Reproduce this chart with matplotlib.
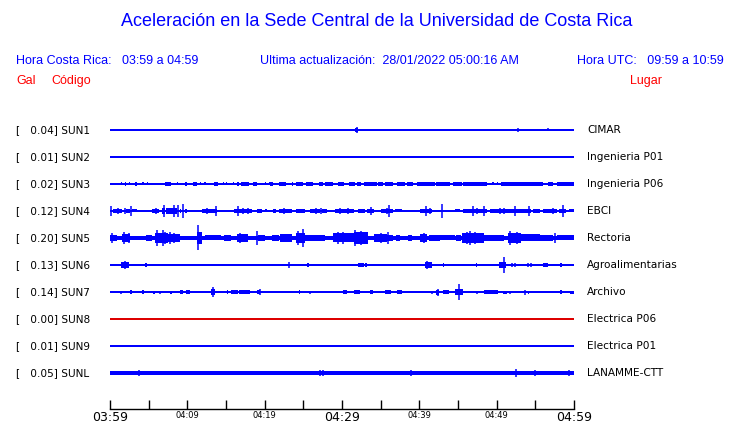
import matplotlib
matplotlib.use("Agg")
import matplotlib.pyplot as plt

# Estaciones (de arriba hacia abajo)
codigos = ["SUN1", "SUN2", "SUN3", "SUN4", "SUN5", "SUN6", "SUN7", "SUN8", "SUN9", "SUNL"]
gal = [0.04, 0.01, 0.02, 0.12, 0.20, 0.13, 0.14, 0.00, 0.01, 0.05]
lugares = ["CIMAR", "Ingenieria P01", "Ingenieria P06", "EBCI", "Rectoria",
           "Agroalimentarias", "Archivo", "Electrica P06", "Electrica P01", "LANAMME-CTT"]
colores = ["blue"] * 7 + ["#dd0000"] + ["blue"] * 2
# medio grosor de la linea base (px)
base_px = [0.7, 0.7, 0.7, 0.8, 2.2, 0.7, 0.7, 0.7, 0.7, 1.8]

# tiempo en minutos desde 03:59; (inicio, fin, media altura px)
SUN1_bloques = [(31.7, 32.1, 2)]
SUN1_picos = [(20.9, 1), (31.9, 3), (52.7, 2), (56.7, 1.5)]

SUN2_bloques = []
SUN2_picos = []

SUN3_bloques = [(1.4, 1.5, 1.5), (1.9, 2.1, 1.7), (2.5, 2.6, 1.5), (3.2, 3.5, 1.7), (4.2, 4.3, 1.5),
                (4.8, 4.9, 1.5), (7.1, 7.85, 1.7), (8.6, 8.7, 1.5), (9.7, 10.0, 1.7), (10.7, 11.2, 1.7),
                (11.6, 11.7, 1.5), (12.2, 12.3, 1.5), (13.4, 14.0, 1.7), (14.6, 14.7, 1.5), (15.0, 15.1, 1.5),
                (15.9, 16.0, 1.5), (16.4, 16.7, 1.7), (17.0, 18.0, 1.7), (18.5, 19.0, 1.7), (20.0, 20.1, 1.5),
                (20.5, 20.6, 1.5), (20.7, 21.1, 1.7), (21.8, 22.8, 1.7), (23.5, 23.7, 1.7), (24.1, 25.0, 1.7),
                (25.4, 26.3, 1.7), (27.0, 27.5, 1.7), (27.8, 28.9, 1.7), (29.5, 30.2, 1.7), (30.9, 31.7, 1.7),
                (31.9, 32.5, 1.7), (32.8, 34.5, 1.7), (34.7, 35.3, 1.7), (35.6, 36.6, 1.7), (37.1, 38.1, 1.7),
                (38.4, 39.2, 1.7), (39.7, 42.0, 1.7), (42.2, 44.0, 1.7), (44.4, 45.5, 1.7), (45.7, 48.7, 1.7),
                (49.4, 49.6, 1.5), (50.0, 50.1, 1.5), (50.6, 56.0, 1.8), (56.7, 57.3, 1.7), (57.8, 60.0, 1.8)]
SUN3_picos = []

SUN4_bloques = [(0.43, 1.5, 2), (2.1, 2.6, 2), (2.8, 3.5, 1.5), (5.4, 6.3, 2), (6.7, 7.1, 3), (7.3, 7.97, 3),
                (8.0, 8.6, 3), (9.0, 9.2, 2), (9.7, 9.9, 2), (10.4, 11.0, 1.2), (11.6, 11.7, 1.2),
                (11.9, 13.8, 2), (16.0, 18.3, 2), (19.0, 19.6, 2), (20.1, 20.2, 1.5), (21.1, 21.5, 2),
                (21.8, 23.5, 2), (24.0, 25.2, 2), (25.9, 27.1, 2), (27.4, 28.0, 2), (29.1, 31.5, 2.3),
                (32.1, 33.0, 2), (33.2, 34.1, 2), (35.1, 36.6, 2), (36.9, 37.7, 1.5), (38.2, 38.9, 1.2),
                (39.4, 39.6, 1.2), (40.1, 41.6, 2), (42.2, 42.7, 1), (43.5, 43.9, 1.2), (44.6, 45.2, 1.5),
                (45.7, 48.7, 2.3), (49.1, 52.1, 2), (52.1, 54.5, 2.3), (54.7, 55.6, 2), (56.0, 57.8, 2),
                (58.0, 59.0, 2), (59.3, 60.0, 1.5)]
SUN4_picos = [(0.1, 5), (1.0, 3), (1.94, 3), (2.75, 5), (6.0, 3), (7.0, 6), (8.3, 6), (8.8, 6), (9.5, 7),
              (12.5, 3), (13.7, 5), (16.6, 5), (17.2, 3), (17.8, 3), (22.5, 3), (26.6, 3), (27.3, 3),
              (29.7, 3), (30.8, 3), (33.7, 4), (35.8, 3), (36.1, 6), (40.9, 5), (41.4, 3), (42.9, 7),
              (47.0, 5), (47.5, 3), (48.4, 5), (50.4, 3), (50.9, 3), (52.4, 5), (54.2, 5), (57.3, 3), (58.6, 6)]

SUN5_bloques = [(0.0, 0.86, 3), (1.5, 2.6, 4), (4.7, 5.4, 3), (5.8, 7.5, 5), (7.5, 9.0, 4), (11.3, 11.9, 6),
                (12.3, 14.4, 2.5), (14.7, 15.7, 3), (16.4, 17.9, 4), (19.2, 20.1, 3), (20.9, 21.8, 3),
                (22.0, 23.5, 4), (24.1, 25.2, 5), (25.2, 27.8, 3), (28.9, 31.5, 4.5), (31.5, 33.4, 6),
                (34.1, 35.8, 4), (35.8, 36.6, 3), (37.0, 37.5, 3), (38.5, 39.0, 3), (40.1, 41.0, 4),
                (41.2, 42.7, 3), (42.7, 44.6, 2.5), (44.8, 45.4, 3), (45.5, 48.3, 5), (48.3, 50.9, 3),
                (51.5, 53.2, 5), (53.2, 55.6, 3.5), (55.6, 57.3, 3), (57.8, 60.0, 2.5)]
SUN5_picos = [(0.2, 5), (1.8, 6), (2.4, 5), (6.1, 8), (6.8, 8), (7.1, 6), (7.8, 6), (8.3, 5), (11.4, 12.5),
              (16.8, 5), (17.7, 3.5), (19.0, 7), (24.3, 7), (25.0, 9), (29.5, 6), (30.1, 6), (31.7, 8),
              (32.5, 7), (35.0, 5), (36.0, 6), (40.6, 5), (46.1, 6), (46.5, 7), (47.2, 6), (48.0, 5),
              (51.7, 7), (52.6, 6), (57.5, 5)]

SUN6_bloques = [(1.4, 2.4, 3), (4.5, 4.75, 2), (19.7, 19.85, 1.5), (25.5, 25.7, 2), (32.1, 32.8, 2),
                (33.0, 33.2, 2), (40.7, 41.6, 3), (43.0, 43.2, 2), (47.3, 47.5, 2), (50.3, 51.2, 3),
                (56.0, 56.7, 2), (58.2, 58.4, 2)]
SUN6_picos = [(0.73, 1.5), (2.0, 4), (4.0, 1), (7.7, 1), (21.9, 1.5), (22.4, 1.5), (23.2, 3), (23.8, 1.5),
              (24.5, 1.5), (29.7, 1.5), (34.3, 1), (35.1, 1), (36.3, 1.5), (37.6, 1.5), (38.1, 1.5),
              (39.2, 1), (41.0, 4), (44.3, 1.5), (45.5, 1), (48.9, 1), (50.9, 8), (52.0, 2), (52.4, 2),
              (53.0, 1.5), (53.5, 1.5), (54.0, 2), (54.5, 2), (55.3, 1.5), (59.2, 1.5)]

SUN7_bloques = [(2.6, 2.8, 2), (4.2, 4.4, 2), (5.6, 5.8, 1.5), (7.8, 8.0, 1.5), (9.1, 9.5, 2), (9.8, 10.3, 2),
                (13.0, 13.6, 3), (15.1, 15.3, 2), (15.7, 16.5, 2), (16.7, 18.1, 2), (19.0, 19.4, 2),
                (24.4, 24.6, 2), (30.1, 30.6, 2), (31.5, 32.3, 2), (33.6, 34.0, 2), (35.6, 36.4, 2),
                (37.1, 37.7, 2), (42.2, 42.6, 2.5), (43.1, 43.9, 2), (44.6, 45.6, 3), (48.3, 50.2, 2),
                (50.8, 51.3, 1.5), (54.0, 54.2, 1.5), (58.2, 58.4, 2), (59.5, 60.0, 1.5)]
SUN7_picos = [(1.4, 1.5), (5.0, 1), (6.5, 1.5), (8.4, 1), (13.3, 4.5), (19.4, 3), (25.8, 1.5), (31.0, 1),
              (40.5, 1), (40.9, 1), (41.3, 1), (41.7, 1.5), (42.4, 3.5), (45.1, 8), (46.3, 1), (47.4, 1.5),
              (51.7, 1.5), (53.7, 2.5), (55.0, 1), (55.6, 1), (56.1, 1), (56.5, 1), (57.0, 1)]

SUN8_bloques = []
SUN8_picos = []

SUN9_bloques = []
SUN9_picos = [(11.5, 1), (28.8, 1), (38.9, 1), (42.6, 1), (58.8, 1)]

SUNL_bloques = []
SUNL_picos = [(3.7, 2.5), (27.2, 2.5), (27.5, 2.5), (38.9, 2.5), (52.5, 4), (55.0, 2.5), (59.4, 3)]

bloques = [SUN1_bloques, SUN2_bloques, SUN3_bloques, SUN4_bloques, SUN5_bloques,
           SUN6_bloques, SUN7_bloques, SUN8_bloques, SUN9_bloques, SUNL_bloques]
picos = [SUN1_picos, SUN2_picos, SUN3_picos, SUN4_picos, SUN5_picos,
         SUN6_picos, SUN7_picos, SUN8_picos, SUN9_picos, SUNL_picos]

marcas = [0, 5, 10, 15, 20, 25, 30, 35, 40, 45, 50, 55, 60]
etiquetas = ["03:59", "", "04:09", "", "04:19", "", "04:29", "", "04:39", "", "04:49", "", "04:59"]

W, H = 740, 423
FILA = 27.0  # separacion entre trazas en px

fig = plt.figure(figsize=(W / 100, H / 100), dpi=100)
fig.patch.set_facecolor("white")

# eje de trazas: de x=110 a 574 px, de y=115 a 409 px
top_px, bot_px = 115, 409
ax = fig.add_axes([110 / W, 1 - bot_px / H, 464 / W, (bot_px - top_px) / H])
primera = (130 - top_px) / FILA
ax.set_xlim(0, 60)
ax.set_ylim(len(codigos) - 1 + (bot_px - 373) / FILA, -primera)

for i, cod in enumerate(codigos):
    c = colores[i]
    h0 = base_px[i] / FILA
    ax.broken_barh([(0, 60)], (i - h0, 2 * h0), facecolors=c, linewidth=0)
    for t0, t1, h in bloques[i]:
        hh = h / FILA
        ax.broken_barh([(t0, max(t1 - t0, 0.15))], (i - hh, 2 * hh), facecolors=c, linewidth=0)
    for t, h in picos[i]:
        hh = h / FILA
        ax.vlines(t, i - hh, i + hh, colors=c, linewidth=1.1)

    y_txt = 1 - (130 + FILA * i) / H
    fig.text(16 / W, y_txt, "[   %.2f] %s" % (gal[i], cod), fontsize=7.6, color="black",
             family="DejaVu Sans", va="center", ha="left")
    fig.text(587 / W, y_txt, lugares[i], fontsize=7.6, color="black",
             family="DejaVu Sans", va="center", ha="left")

for s in ["top", "left", "right"]:
    ax.spines[s].set_visible(False)
ax.spines["bottom"].set_linewidth(1.0)
ax.set_yticks([])
ax.set_xticks(marcas)
ax.set_xticklabels(etiquetas, family="DejaVu Sans")
ax.tick_params(axis="x", direction="in", length=6.5, width=1.0, pad=1.5)
for lab in ax.get_xticklabels():
    if lab.get_text() in ("03:59", "04:29", "04:59"):
        lab.set_fontsize(9)
    else:
        lab.set_fontsize(6)

# encabezados
sans = "Liberation Sans"
fig.text(377 / W, 1 - 22 / H, "Aceleración en la Sede Central de la Universidad de Costa Rica",
         fontsize=13, color="blue", family=sans, ha="center", va="center")
fig.text(16 / W, 1 - 61 / H, "Hora Costa Rica:   03:59 a 04:59", fontsize=9, color="blue",
         family=sans, ha="left", va="center")
fig.text(260 / W, 1 - 61 / H, "Ultima actualización:  28/01/2022 05:00:16 AM", fontsize=9,
         color="blue", family=sans, ha="left", va="center")
fig.text(724 / W, 1 - 61 / H, "Hora UTC:   09:59 a 10:59", fontsize=9, color="blue",
         family=sans, ha="right", va="center")
fig.text(16 / W, 1 - 81 / H, "Gal", fontsize=9, color="red", family=sans, ha="left", va="center")
fig.text(51 / W, 1 - 81 / H, "Código", fontsize=9, color="red", family=sans, ha="left", va="center")
fig.text(662 / W, 1 - 81 / H, "Lugar", fontsize=9, color="red", family=sans, ha="right", va="center")

fig.savefig("out.png", dpi=100)
